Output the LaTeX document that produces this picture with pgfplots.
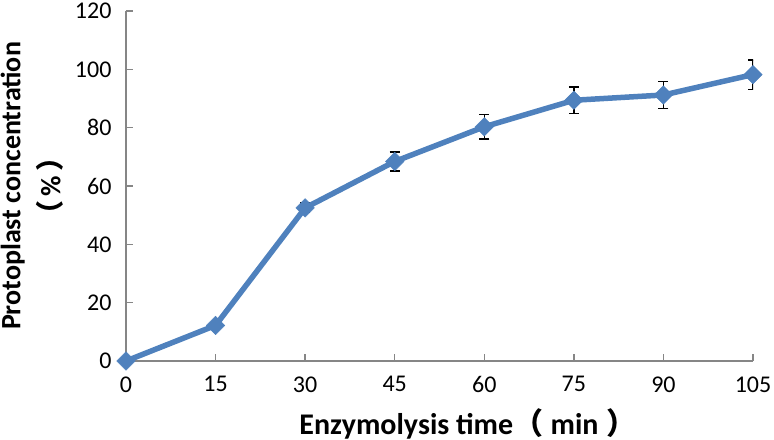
\documentclass[border=0pt]{standalone}
\usepackage{pgfplots}
\pgfplotsset{compat=1.18}
\usepackage{pgfplotstable}
\usepackage{fontspec}
\setmainfont{Carlito}
\newfontfamily\cjk{Noto Sans CJK SC}
\definecolor{serblue}{HTML}{4F81BD}
\definecolor{axgray}{HTML}{868686}
\pgfplotstableread{
t  c     e
0  0     0
15 12.2  0
30 52.5  1.7
45 68.4  3.3
60 80.3  4.2
75 89.4  4.5
90 91.2  4.6
105 98.2 5.0
}\datatab
\begin{document}
\begin{tikzpicture}
\begin{axis}[
  at={(0,0)}, anchor=south west,
  scale only axis,
  width=627bp, height=350bp,
  xmin=0, xmax=105, ymin=0, ymax=120,
  xtick={0,15,...,105}, ytick={0,20,...,120},
  axis x line*=bottom, axis y line*=left,
  axis line style={axgray, line width=1.3bp, -},
  tick style={axgray, line width=1.3bp},
  major tick length=7bp,
  tick align=inside,
  /pgf/number format/assume math mode=true,
  tick label style={font=\fontsize{24bp}{28bp}\selectfont, black},
  xticklabel style={yshift=-12bp},
  yticklabel style={xshift=-11bp},
  clip mode=individual,
  xlabel={\textbf{Enzymolysis time}{\cjk\bfseries （}\hspace{0.25em}\textbf{min}\hspace{0.25em}{\cjk\bfseries ）}},
  xlabel style={font=\fontsize{30bp}{34bp}\selectfont, at={(axis description cs:0.545,0)}, anchor=base, yshift=-73bp},
  ylabel={\textbf{Protoplast concentration}\\[8bp]{\cjk\bfseries （}\hspace{0.15em}\textbf{\%}\hspace{0.15em}{\cjk\bfseries ）}},
  ylabel style={font=\fontsize{28bp}{32bp}\selectfont, align=center, at={(axis description cs:-0.150,0.5)}, anchor=center},
]
\addplot[draw=none, mark=none, black,
  error bars/.cd, y dir=both, y explicit,
  error bar style={black, line width=1.3bp},
  error mark options={black, rotate=90, mark size=5bp, line width=1.3bp}]
  table[x=t, y=c, y error=e] {\datatab};
\addplot[serblue, line width=5.5bp, mark=square*,
  mark options={rotate=45, mark size=6.5bp, fill=serblue, draw=serblue, line width=0.5bp, solid}]
  table[x=t, y=c] {\datatab};
\end{axis}
\pgfresetboundingbox
\path[use as bounding box] (-126bp,-79bp) rectangle (648bp,361bp);
\end{tikzpicture}
\end{document}
